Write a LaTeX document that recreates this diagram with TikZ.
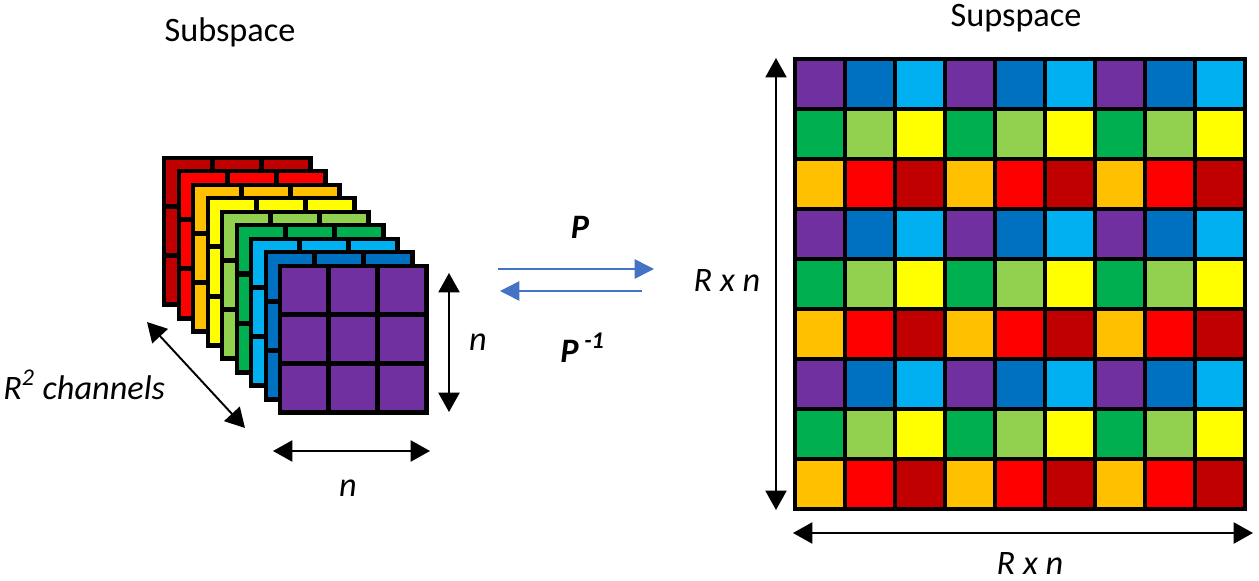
\documentclass[tikz,border=0pt]{standalone}
\usepackage{fontspec}
\setmainfont{Carlito}
\usetikzlibrary{arrows.meta}
\definecolor{c00}{HTML}{7030A0}
\definecolor{c01}{HTML}{0070C0}
\definecolor{c02}{HTML}{00B0F0}
\definecolor{c10}{HTML}{00B050}
\definecolor{c11}{HTML}{92D050}
\definecolor{c12}{HTML}{FFFF00}
\definecolor{c20}{HTML}{FFC000}
\definecolor{c21}{HTML}{FF0000}
\definecolor{c22}{HTML}{C00000}
\definecolor{maplink}{HTML}{4472C4}
\begin{document}
\begin{tikzpicture}[x=0.02cm,y=-0.02cm,
title/.style={font=\fontsize{19.5}{23}\selectfont,inner sep=0pt,anchor=base},
lbl/.style={font=\fontsize{19.5}{23}\selectfont\itshape,inner sep=0pt},
dimarrow/.style={{Triangle[length=11pt,width=12pt]}-{Triangle[length=11pt,width=12pt]},line width=1.1pt},
maparrow/.style={-{Triangle[length=11pt,width=11pt]},draw=maplink,fill=maplink,line width=0.85pt}]
\useasboundingbox (0,0) rectangle (1259,581);

% subspace: R^2 channels of n x n
\foreach \col [count=\k from 0] in {c22,c21,c20,c12,c11,c10,c02,c01,c00}{
  \fill[black] (162+14.5*\k,156+13.5*\k) rectangle ++(151,151);
  \foreach \i in {0,1,2}
    \foreach \j in {0,1,2}
      \fill[\col] (166+14.5*\k+49*\i,160+13.5*\k+49*\j) rectangle ++(44,44);
}

% supspace: Rn x Rn
\fill[black] (793,57) rectangle (1247,511);
\foreach \r in {0,...,8}
  \foreach \c in {0,...,8}{
    \pgfmathtruncatemacro\a{mod(\r,3)}
    \pgfmathtruncatemacro\b{mod(\c,3)}
    \fill[c\a\b] (797+50*\c,61+50*\r) rectangle ++(46,46);
  }

\coordinate (nvT) at (449,273);
\coordinate (nvB) at (449,412);
\coordinate (nhL) at (273,451);
\coordinate (nhR) at (430,451);
\coordinate (chT) at (147,322);
\coordinate (chB) at (245,428);
\coordinate (rvT) at (776,58);
\coordinate (rvB) at (776,510);
\coordinate (rhL) at (793,533);
\coordinate (rhR) at (1253,533);
\coordinate (pL) at (498,269);
\coordinate (pR) at (654,269);
\coordinate (qL) at (500,291);
\coordinate (qR) at (642,291);

\node[title] (sub) at (230,42) {Subspace};
\node[title] (sup) at (1016,27) {Supspace};
\node[lbl] (nv) at (478,342) {n};
\node[lbl] (nh) at (348,488) {n};
\node[lbl,anchor=base west] (ch) at (3,399) {R\textsuperscript{2} channels};
\node[lbl,anchor=base] (rv) at (727,292) {R x n};
\node[lbl,anchor=base] (rh) at (1030,574) {R x n};
\node[lbl,font=\fontsize{19.5}{23}\selectfont\bfseries\itshape] (p) at (580,227) {P};
\node[lbl,font=\fontsize{19.5}{23}\selectfont\bfseries\itshape,anchor=base west] (pinv) at (560,362) {P\,\textsuperscript{-1}};

\draw[dimarrow] (nvT) -- (nvB);
\draw[dimarrow] (nhL) -- (nhR);
\draw[dimarrow] (chT) -- (chB);
\draw[dimarrow,line width=0.9pt] (rvT) -- (rvB);
\draw[dimarrow] (rhL) -- (rhR);
\draw[maparrow] (pL) -- (pR);
\draw[maparrow] (qR) -- (qL);
\end{tikzpicture}
\end{document}
